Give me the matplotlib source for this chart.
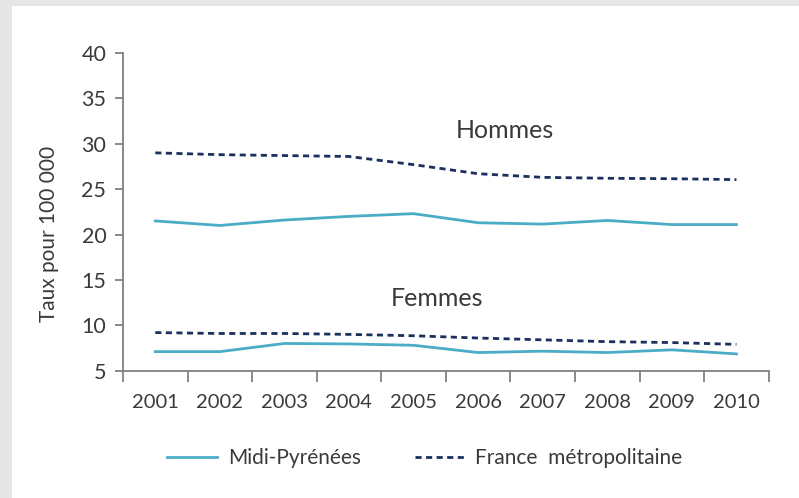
import matplotlib
matplotlib.use("Agg")
import matplotlib.pyplot as plt
from matplotlib.patches import Rectangle
from matplotlib.lines import Line2D

years = ["2001", "2002", "2003", "2004", "2005", "2006", "2007", "2008", "2009", "2010"]
midi_hommes = [21.5, 21.0, 21.6, 22.0, 22.3, 21.3, 21.15, 21.55, 21.1, 21.1]
france_hommes = [29.0, 28.8, 28.7, 28.6, 27.7, 26.7, 26.3, 26.2, 26.15, 26.05]
midi_femmes = [7.1, 7.1, 8.0, 7.95, 7.8, 7.0, 7.15, 7.0, 7.3, 6.85]
france_femmes = [9.2, 9.1, 9.1, 9.0, 8.85, 8.6, 8.4, 8.2, 8.1, 7.9]
yticks = [5, 10, 15, 20, 25, 30, 35, 40]

plt.rcParams['font.family'] = ['Lato', 'DejaVu Sans']
txt = '#3a3a3a'
c_midi = '#4bacc6'
c_fr = '#1b2f5e'

fig = plt.figure(figsize=(7.99, 4.98), dpi=100)
fig.patch.set_facecolor('#e6e6e6')
fig.patches.append(Rectangle((12/799, 0), 1, 1 - 6/498, transform=fig.transFigure,
                             facecolor='white', edgecolor='none', zorder=-5))

ax = fig.add_axes([123/799, 1 - 370.7/498, (768.7 - 123)/799, (370.7 - 53)/498])
ax.set_zorder(2)
ax.set_facecolor('none')
x = list(range(len(years)))
dash = (0, (2.2, 1.6))
ax.plot(x, france_hommes, color=c_fr, lw=2, linestyle=dash)
ax.plot(x, midi_hommes, color=c_midi, lw=2)
ax.plot(x, france_femmes, color=c_fr, lw=2, linestyle=dash)
ax.plot(x, midi_femmes, color=c_midi, lw=2)

ax.set_xlim(-0.5, len(years) - 0.5)
ax.set_ylim(5, 40)
ax.set_yticks(yticks)
ax.set_yticklabels([str(v) for v in yticks], fontsize=15.5, color=txt)
ax.set_xticks([i - 0.5 for i in range(len(years) + 1)])
ax.set_xticklabels([])
ax.set_xticks(x, minor=True)
ax.set_xticklabels(years, minor=True, fontsize=14.5, color=txt)
ax.tick_params(axis='x', which='major', length=8, width=1.3, color='#808080', direction='out')
ax.tick_params(axis='x', which='minor', length=0, pad=17)
ax.tick_params(axis='y', length=6, width=1.3, color='#808080', pad=6)
for s in ['top', 'right']:
    ax.spines[s].set_visible(False)
for s in ['left', 'bottom']:
    ax.spines[s].set_color('#808080')
    ax.spines[s].set_linewidth(1.3)

ax.set_ylabel('Taux pour 100 000', fontsize=15, color=txt, va='center')
ax.yaxis.set_label_coords((49 - 123) / 645.7, (370.7 - 234) / 317.7)

ax.text(5.42, 31.5, 'Hommes', fontsize=18, color=txt, ha='center', va='center')
ax.text(4.36, 13.0, 'Femmes', fontsize=18, color=txt, ha='center', va='center')

handles = [Line2D([], [], color=c_midi, lw=2),
           Line2D([], [], color=c_fr, lw=2, linestyle=dash)]
leg = fig.legend(handles, ['Midi-Pyrénées', 'France  métropolitaine'], loc='center',
                 bbox_to_anchor=(425/799, 1 - 458/498), ncol=2, frameon=False,
                 fontsize=15, labelcolor=txt, handlelength=2.4, columnspacing=2.6,
                 handletextpad=0.5)
leg.set_zorder(3)

fig.savefig('out.png', dpi=100, facecolor=fig.get_facecolor())
